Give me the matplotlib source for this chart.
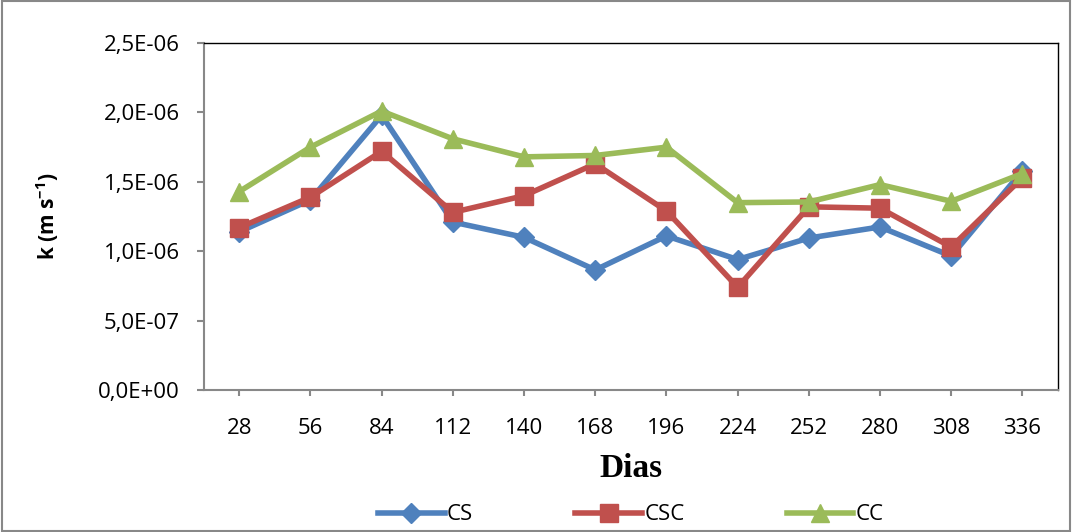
import matplotlib.pyplot as plt
import numpy as np
from matplotlib.ticker import FuncFormatter

# data (k in m/s)
dias = ['28', '56', '84', '112', '140', '168', '196', '224', '252', '280', '308', '336']
cs = [1.14e-6, 1.37e-6, 1.98e-6, 1.21e-6, 1.10e-6, 0.865e-6, 1.11e-6, 0.94e-6, 1.095e-6, 1.175e-6, 0.965e-6, 1.58e-6]
csc = [1.17e-6, 1.39e-6, 1.72e-6, 1.28e-6, 1.40e-6, 1.63e-6, 1.29e-6, 0.74e-6, 1.32e-6, 1.31e-6, 1.03e-6, 1.53e-6]
cc = [1.43e-6, 1.75e-6, 2.01e-6, 1.81e-6, 1.68e-6, 1.69e-6, 1.75e-6, 1.35e-6, 1.355e-6, 1.48e-6, 1.36e-6, 1.56e-6]
y_ticks = [0, 0.5e-6, 1.0e-6, 1.5e-6, 2.0e-6, 2.5e-6]

plt.rcParams['font.family'] = ['Open Sans', 'DejaVu Sans']

fig = plt.figure(figsize=(10.72, 5.32), dpi=100)
ax = fig.add_axes([0.19, 0.267, 0.797, 0.652])

x = np.arange(len(dias))
ax.plot(x, cs, color='#4F81BD', lw=4, marker='D', ms=10, label='CS')
ax.plot(x, csc, color='#C0504D', lw=4, marker='s', ms=13, label='CSC')
ax.plot(x, cc, color='#9BBB59', lw=4, marker='^', ms=13, label='CC')

ax.set_xlim(-0.5, len(dias) - 0.5)
ax.set_ylim(0, 2.5e-6)
ax.set_xticks(x)
ax.set_xticklabels(dias)
ax.set_yticks(y_ticks)

def sci_comma(v, pos):
    s = '{:.1E}'.format(v)
    mant, ex = s.split('E')
    return mant.replace('.', ',') + 'E' + ('+' if int(ex) >= 0 else '-') + '{:02d}'.format(abs(int(ex)))

ax.yaxis.set_major_formatter(FuncFormatter(sci_comma))
ax.tick_params(axis='both', labelsize=16, colors='#888888', labelcolor='black')
ax.tick_params(axis='x', length=4, width=1.5, pad=16)
ax.tick_params(axis='y', length=5, width=1.5, pad=12)

for side in ['left', 'bottom']:
    ax.spines[side].set_color('#888888')
    ax.spines[side].set_linewidth(1.5)
for side in ['top', 'right']:
    ax.spines[side].set_color('black')
    ax.spines[side].set_linewidth(1)

ax.set_ylabel('k (m s$^{\\mathregular{-1}}$)', fontsize=15, fontweight='bold', labelpad=27)
ax.set_xlabel('Dias', fontsize=24, fontweight='bold', family='Liberation Serif', labelpad=10)

ax.legend(loc='center', bbox_to_anchor=(0.5, -0.36), ncol=3, frameon=False,
          fontsize=16, columnspacing=4.6, handlelength=3, handletextpad=0.1)

# outer frame around the whole chart
fig.patches.append(plt.Rectangle((0.002, 0.002), 0.996, 0.996, transform=fig.transFigure,
                                 fill=False, edgecolor='#888888', lw=1.5))

fig.savefig('out.png', dpi=100)
